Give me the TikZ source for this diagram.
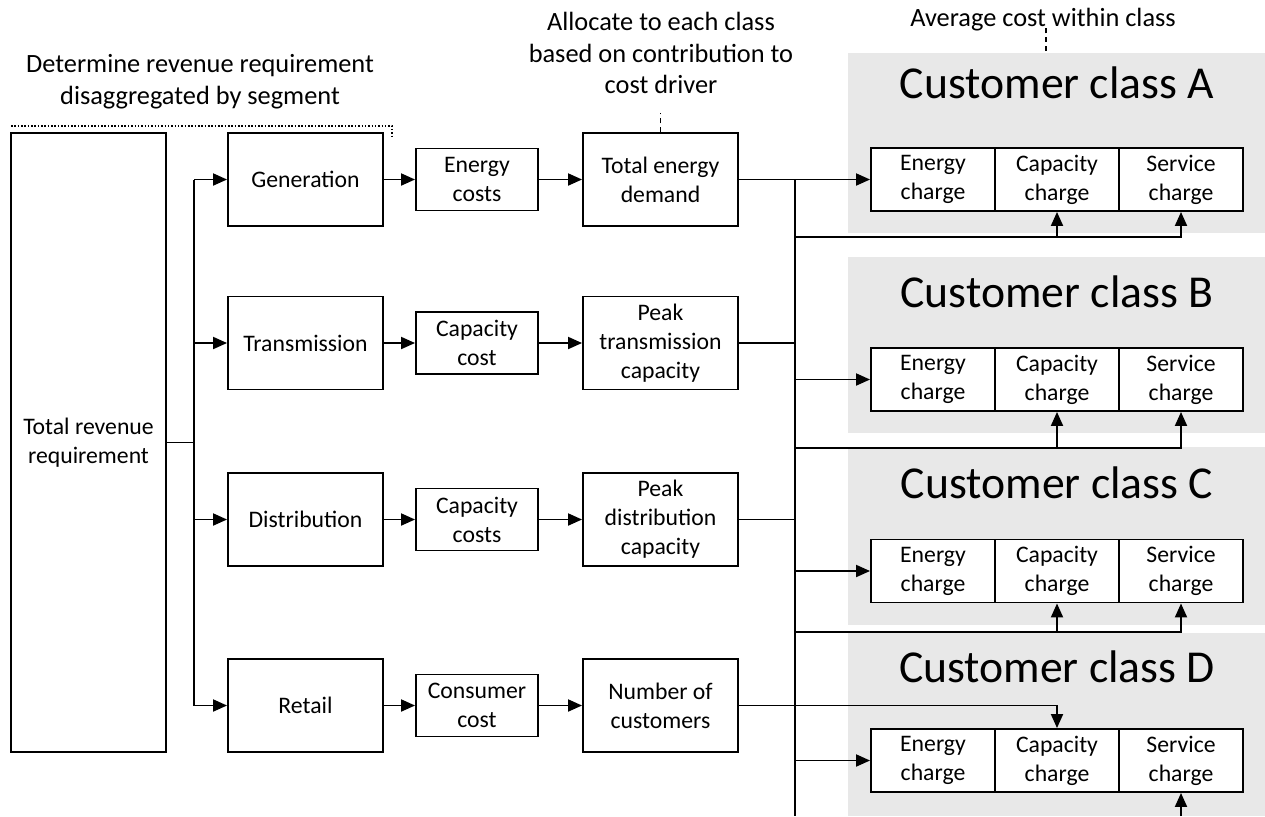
\documentclass[tikz,border=0pt]{standalone}
\usepackage{fontspec}
\setmainfont{Carlito}
\usetikzlibrary{arrows.meta}
\definecolor{panelgray}{RGB}{232,232,232}

\begin{document}
\begin{tikzpicture}[x=0.02cm, y=-0.02cm, line width=1.1pt,
    box/.style={draw, fill=white, align=center, inner sep=0pt, font=\fontsize{13.5}{16.5}\selectfont},
    segbox/.style={box, minimum width=3.1cm, minimum height=1.86cm},
    costbox/.style={box, minimum width=2.44cm, minimum height=1.24cm},
    chargebox/.style={box, minimum width=2.48cm, minimum height=1.26cm},
    note/.style={align=center, font=\fontsize{15}{18}\selectfont},
    leader/.style={densely dashed, line width=0.8pt},
    arr/.style={-{Triangle[length=0.28cm, width=0.24cm]}}]
  \useasboundingbox (0,0) rectangle (1265,816);

  % customer class panels
  \foreach \c/\ya/\yb/\yt in {A/53/233/83, B/257/433/292, C/447/625/483, D/633/816/667} {
    \fill[panelgray] (848,\ya) rectangle (1265,\yb);
    \node[font=\fontsize{26}{30}\selectfont] (title\c) at (1057,\yt) {Customer class \c};
  }
  \foreach \c/\y in {A/179.5, B/379.5, C/571, D/760.5} {
    \node[chargebox] (e\c) at (933,\y) {Energy\\charge};
    \node[chargebox] (c\c) at (1057,\y) {Capacity\\charge};
    \node[chargebox] (s\c) at (1181,\y) {Service\\charge};
  }

  % notes
  \node[note] (segnote) at (200,82) {Determine revenue requirement\\disaggregated by segment};
  \node[note] (allocnote) at (661,53) {Allocate to each class\\based on contribution to\\cost driver};
  \node[note] (avgnote) at (1043,20) {Average cost within class};

  % segments
  \node[segbox, minimum height=12.38cm] (total) at (88.5,442.5) {Total revenue\\requirement};
  \node[segbox] (gen) at (305.5,179.5) {Generation};
  \node[segbox] (trans) at (305.5,343) {Transmission};
  \node[segbox] (dist) at (305.5,519.5) {Distribution};
  \node[segbox] (retail) at (305.5,705.5) {Retail};

  \node[costbox] (ecost) at (477,179.5) {Energy\\costs};
  \node[costbox] (tcost) at (477,343) {Capacity\\cost};
  \node[costbox] (dcost) at (477,519.5) {Capacity\\costs};
  \node[costbox] (rcost) at (477,705.5) {Consumer\\cost};

  \node[segbox] (tdem) at (660.5,179.5) {Total energy\\demand};
  \node[segbox] (ptrans) at (660.5,343) {Peak\\transmission\\capacity};
  \node[segbox] (pdist) at (660.5,519.5) {Peak\\distribution\\capacity};
  \node[segbox] (ncust) at (660.5,705.5) {Number of\\customers};

  % brackets
  \draw[densely dotted, line width=0.9pt] (11,126) -- (392,126) -- (392,138);
  \draw[leader] (tdem.north) -- +(0,-19);
  \coordinate (avgfoot) at (1046,51);
  \draw[leader] (avgfoot) -- +(0,-23);

  % trunk to segments
  \coordinate (trunk) at (194,442.5);
  \draw (total.east) -- (trunk);
  \draw (gen.west -| trunk) -- (retail.west -| trunk);
  \foreach \s in {gen, trans, dist, retail}
    \draw[arr] (\s.west -| trunk) -- (\s.west);
  \foreach \a/\b in {gen/ecost, ecost/tdem, trans/tcost, tcost/ptrans,
                     dist/dcost, dcost/pdist, retail/rcost, rcost/ncust}
    \draw[arr] (\a.east) -- (\b.west);

  % bus to classes
  \coordinate (bustop) at (795,179.5);
  \coordinate (busbot) at (795,816);
  \draw (bustop) -- (busbot);
  \draw[arr] (tdem.east) -- (eA.west);
  \draw (ptrans.east) -- (ptrans.east -| bustop);
  \draw (pdist.east) -- (pdist.east -| bustop);
  \draw[arr] (ncust.east) -| (cD.north);
  \foreach \c in {B, C, D}
    \draw[arr] (e\c.west -| bustop) -- (e\c.west);
  \foreach \c/\y in {A/237, B/448, C/632} {
    \coordinate (up\c) at (795,\y);
    \draw[arr] (up\c) -| (c\c.south);
    \draw[arr] (up\c) -| (s\c.south);
  }
  \coordinate (sDfoot) at (1181,816);
  \draw[arr] (sDfoot) -- (sD.south);
\end{tikzpicture}
\end{document}
